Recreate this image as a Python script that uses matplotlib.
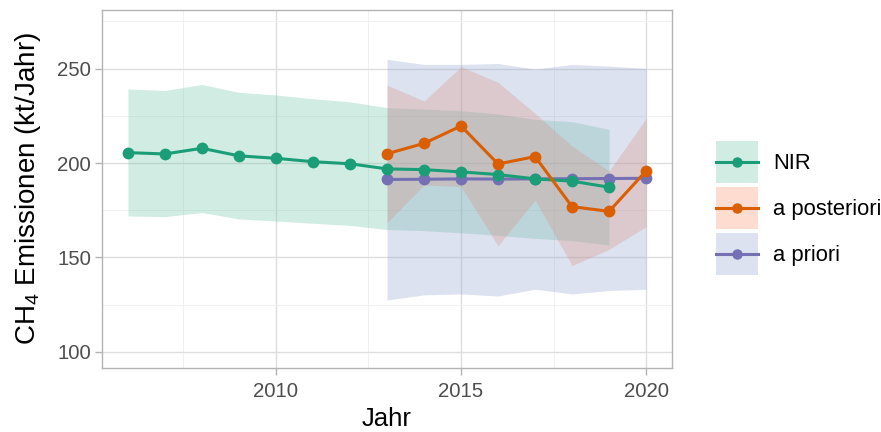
import matplotlib
matplotlib.use("Agg")
import matplotlib.pyplot as plt
from matplotlib.patches import Patch
from matplotlib.lines import Line2D
from matplotlib.legend_handler import HandlerLine2D

plt.rcParams["font.family"] = ["Liberation Sans", "DejaVu Sans"]
plt.rcParams["mathtext.fontset"] = "custom"
plt.rcParams["mathtext.rm"] = "Liberation Sans"
plt.rcParams["mathtext.it"] = "Liberation Sans:italic"
plt.rcParams["mathtext.bf"] = "Liberation Sans:bold"

# NIR inventory
nir_years = [2006, 2007, 2008, 2009, 2010, 2011, 2012, 2013, 2014, 2015, 2016, 2017, 2018, 2019]
nir_values = [205.5, 204.8, 207.8, 203.8, 202.5, 200.7, 199.6, 196.9, 196.5, 195.3, 193.9, 191.6, 190.4, 187.2]
nir_upper = [239.2, 238.4, 241.6, 237.4, 236.0, 234.0, 232.4, 229.3, 228.6, 227.7, 226.0, 223.1, 221.9, 217.8]
nir_lower = [172.0, 171.6, 173.8, 170.4, 169.3, 168.1, 167.0, 164.8, 164.2, 163.1, 161.7, 160.1, 158.9, 156.6]

# inversion, a posteriori
post_years = [2013, 2014, 2015, 2016, 2017, 2018, 2019, 2020]
post_values = [204.9, 210.4, 219.6, 199.5, 203.4, 176.9, 174.4, 195.8]
post_upper = [241.3, 232.8, 251.0, 242.7, 226.3, 209.0, 195.8, 223.6]
post_lower = [168.4, 188.4, 187.5, 156.2, 180.4, 145.7, 154.3, 166.3]

# inversion, a priori
prior_years = [2013, 2014, 2015, 2016, 2017, 2018, 2019, 2020]
prior_values = [191.3, 191.4, 191.6, 191.5, 191.6, 191.7, 191.8, 191.9]
prior_upper = [254.9, 252.2, 252.2, 252.7, 249.7, 252.2, 251.3, 250.1]
prior_lower = [127.5, 130.2, 130.7, 129.6, 133.2, 130.7, 132.5, 133.2]

labels = ["NIR", "a posteriori", "a priori"]
line_colors = ["#1B9E77", "#D95F02", "#7570B3"]
fill_colors = ["#66C2A5", "#FC8D62", "#8DA0CB"]
fill_alpha = 0.3


class CenteredLineHandler(HandlerLine2D):
    """Line handler that sits in the vertical middle of the key box."""

    def create_artists(self, legend, orig_handle, xdescent, ydescent,
                       width, height, fontsize, trans):
        return super().create_artists(legend, orig_handle, xdescent, ydescent,
                                      width, height - ydescent, fontsize, trans)


W, H = 881, 432
fig = plt.figure(figsize=(W / 100, H / 100), dpi=100)
ax = fig.add_axes([102 / W, 1 - 368 / H, (672 - 102) / W, (368 - 10) / H])

series = [
    (nir_years, nir_values, nir_upper, nir_lower),
    (post_years, post_values, post_upper, post_lower),
    (prior_years, prior_values, prior_upper, prior_lower),
]

for (yrs, vals, up, lo), fc in zip(series, fill_colors):
    ax.fill_between(yrs, lo, up, color=fc, alpha=fill_alpha, linewidth=0, zorder=2)

# draw order: a priori, NIR, a posteriori
for idx in [2, 0, 1]:
    yrs, vals, up, lo = series[idx]
    ax.plot(yrs, vals, color=line_colors[idx], linewidth=2.2, zorder=3,
            marker="o", markersize=8.5, markeredgewidth=0)

ax.set_xlim(2005.3, 2020.7)
ax.set_ylim(91.5, 281)
ax.set_xticks([2010, 2015, 2020])
ax.set_xticks([2007.5, 2012.5, 2017.5], minor=True)
ax.set_yticks([100, 150, 200, 250])
ax.set_yticks([125, 175, 225, 275], minor=True)

ax.grid(which="major", color="#DEDEDE", linewidth=1.0, zorder=0)
ax.grid(which="minor", color="#EEEEEE", linewidth=0.6, zorder=0)
ax.set_axisbelow(True)
for sp in ax.spines.values():
    sp.set_color("#B3B3B3")
    sp.set_linewidth(1.0)
ax.tick_params(which="major", length=5, color="#B3B3B3", width=1.0,
               labelsize=14.7, labelcolor="#4D4D4D")
ax.tick_params(axis="x", pad=5)
ax.tick_params(axis="y", pad=3)
ax.tick_params(which="minor", length=0)

ax.set_xlabel("Jahr", fontsize=18.5, labelpad=4.5)
ax.set_ylabel(r"CH$_\mathregular{4}$ Emissionen (kt/Jahr)", fontsize=20, labelpad=10)

handles = []
for lc, fc in zip(line_colors, fill_colors):
    p = Patch(facecolor=fc, alpha=fill_alpha, edgecolor="none")
    ln = Line2D([], [], color=lc, linewidth=2.2, marker="o", markersize=7.5,
                markeredgewidth=0)
    handles.append((p, ln))

leg = fig.legend(handles, labels, loc="center left",
                 bbox_to_anchor=(716 / W, 1 - 208 / H), frameon=False,
                 fontsize=15.8, handlelength=1.92, handleheight=2.57,
                 labelspacing=0.18, handletextpad=0.7, borderpad=0,
                 borderaxespad=0, handler_map={Line2D: CenteredLineHandler()})

fig.savefig("out.png", dpi=100)
